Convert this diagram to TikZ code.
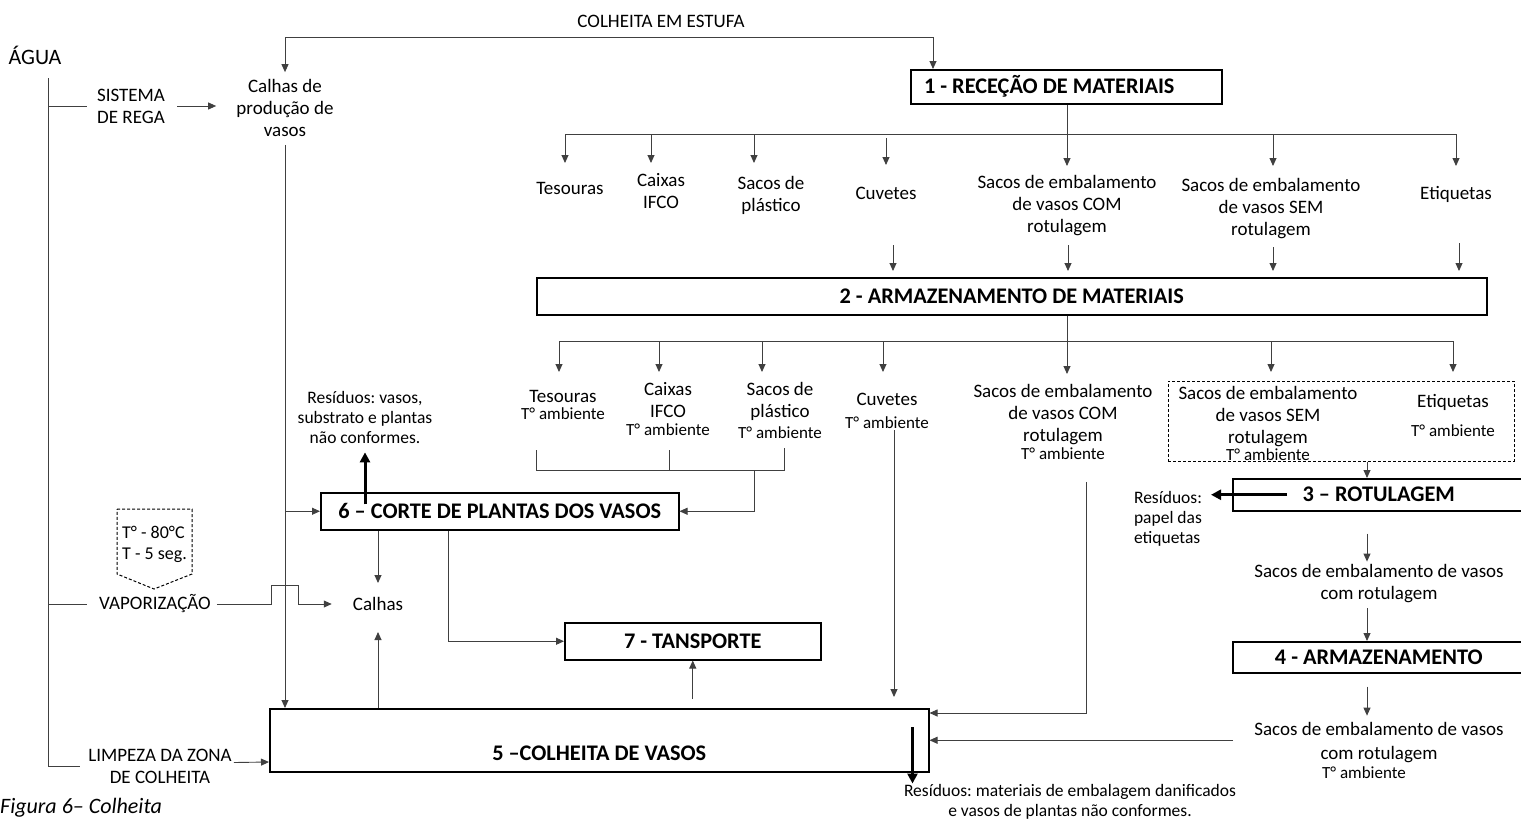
\documentclass[tikz,border=0pt]{standalone}
\usepackage{fontspec}
\setmainfont{Carlito}
\usetikzlibrary{arrows.meta}
\frenchspacing
\newcommand{\amb}{{\fontsize{17}{18}\selectfont T° ambiente}}
\begin{document}
\begin{tikzpicture}[x=1pt,y=-1pt,
  lbl/.style={align=center, inner sep=0pt, font=\fontsize{19}{22}\selectfont},
  sml/.style={align=center, inner sep=0pt, font=\fontsize{17.5}{20}\selectfont},
  stage/.style={draw, line width=1.5pt, inner sep=0pt, font=\bfseries\fontsize{22.3}{25}\selectfont},
  conn/.style={line width=0.9pt, draw=black!75},
  tip/.style={-{Triangle[length=8pt,width=7pt]}},
  arr/.style={conn, tip},
  fat/.style={line width=3pt, -{Triangle[length=10pt,width=10pt]}},
  dashbox/.style={draw, dashed, dash pattern=on 3pt off 2pt, line width=1pt, inner sep=0pt}
]
\useasboundingbox (0,0) rectangle (1521,820);
\clip (0,0) rectangle (1521,820);

% ---------- texts ----------
\node[lbl] (title) at (661,21) {COLHEITA EM ESTUFA};
\node[lbl, font=\fontsize{22}{26}\selectfont] (agua) at (35,55) {ÁGUA};
\node[lbl] (sis) at (131,106) {SISTEMA\\DE REGA};
\node[lbl] (calhasp) at (285,108) {Calhas de\\produção de\\vasos};

% stage 1 and received materials
\node[stage, anchor=north west, minimum width=311, minimum height=34] (box1) at (910,69) {1 - RECEÇÃO DE MATERIAIS\hspace*{34pt}};
\node[lbl] (tes1) at (570,188) {Tesouras};
\node[lbl] (cai1) at (661,191) {Caixas\\IFCO};
\node[lbl] (sac1) at (771,195.5) {Sacos de\\plástico};
\node[lbl] (cuv1) at (886,193) {Cuvetes};
\node[lbl] (com1) at (1067,206) {Sacos de embalamento\\de vasos COM\\rotulagem};
\node[lbl] (sem1) at (1271,208.5) {Sacos de embalamento\\de vasos SEM\\rotulagem};
\node[lbl] (eti1) at (1456,194) {Etiquetas};

% stage 2 and stored materials
\node[stage, anchor=north west, minimum width=950, minimum height=37] (box2) at (536,277) {2 - ARMAZENAMENTO DE MATERIAIS};
\node[lbl] (tes2) at (563,404.5) {Tesouras\\[-5pt]\amb};
\node[lbl] (cai2) at (668,409) {Caixas\\IFCO\\[-4pt]\amb};
\node[lbl] (sac2) at (780,410.5) {Sacos de\\plástico\\[-1pt]\amb};
\node[lbl] (cuv2) at (887,410.5) {Cuvetes\\[1pt]\amb};
\node[lbl] (com2) at (1063,422) {Sacos de embalamento\\de vasos COM\\rotulagem\\[-4pt]\amb};
\node[dashbox, minimum width=346, minimum height=80] (dbox) at (1341,421) {};
\node[lbl] (sem2) at (1268,423) {Sacos de embalamento\\de vasos SEM\\rotulagem\\[-5pt]\amb};
\node[lbl] (eti2) at (1453,415.5) {Etiquetas\\[7pt]\amb};

% cutting, harvest, transport
\node[sml] (res1) at (365,417) {Resíduos: vasos,\\substrato e plantas\\não conformes.};
\node[stage, anchor=north west, minimum width=358, minimum height=37] (box6) at (320,492) {6 – CORTE DE PLANTAS DOS VASOS};
\draw[dashed, dash pattern=on 3pt off 2pt, line width=1pt] (117,509) -- (192,509) -- (192,574) -- (154,589) -- (117,574) -- cycle;
\node[lbl, font=\fontsize{18}{21}\selectfont, align=left, anchor=west] (cond) at (122,544.5) {T° - 80°C\\T - 5 seg.};
\node[lbl] (vap) at (155,604) {VAPORIZAÇÃO};
\node[lbl] (calhas) at (378,604) {Calhas};
\node[stage, anchor=north west, minimum width=256, minimum height=37] (box7) at (564,622) {7 - TANSPORTE};
\node[stage, anchor=north west, minimum width=659, minimum height=63, text height=46pt, text depth=5pt] (box5) at (269,708) {5 –COLHEITA DE VASOS};
\node[lbl] (limp) at (160,766.5) {LIMPEZA DA ZONA\\DE COLHEITA};
\node[sml] (res3) at (1070,802) {Resíduos: materiais de embalagem danificados\\e vasos de plantas não conformes.};

% labelling line
\node[stage, anchor=north west, minimum width=292, minimum height=32] (box3) at (1232,478) {3 – ROTULAGEM};
\node[sml, align=left] (res2) at (1168,519) {Resíduos:\\papel das\\etiquetas};
\node[lbl] (sac3) at (1379,584) {Sacos de embalamento de vasos\\com rotulagem};
\node[stage, anchor=north west, minimum width=292, minimum height=31] (box4) at (1232,641) {4 - ARMAZENAMENTO};
\node[lbl] (sac4) at (1379,750) {Sacos de embalamento de vasos\\[2pt]com rotulagem\\[-3pt]\amb\hspace*{30pt}};

\node[lbl, font=\itshape\fontsize{22}{25}\selectfont, anchor=base west] (cap) at (0,813) {Figura 6– Colheita};

% ---------- water supply ----------
\coordinate (wtop) at (48,78);
\draw[conn] (wtop) |- ([xshift=-8]limp.west);
\draw[conn] (wtop |- sis.west) -- ([xshift=-10]sis.west);
\draw[conn] (wtop |- vap.west) -- ([xshift=-12]vap.west);
\draw[arr] ([xshift=12]sis.east) -- ++(39,0);
\draw[arr] ([xshift=6]vap.east) -- ++(54,0) -- ++(0,-19) -- ++(27,0) -- ++(0,19) -- ([xshift=-21]calhas.west);
\draw[arr] ([xshift=2,yshift=4]limp.east) -- (box5.west |- 0,762);

% ---------- greenhouse harvest ----------
\coordinate (ghR) at ([xshift=23]box1.north west);
\draw[conn, {Triangle[length=8pt,width=7pt]}-{Triangle[length=8pt,width=7pt]}] ([yshift=7]calhasp.north) |- (ghR |- 0,37) -- (ghR);
\draw[arr] ([yshift=-8]calhasp.south) -- (calhasp.south |- box5.north);
\draw[arr] (calhasp.south |- box6.west) -- (box6.west);

% ---------- reception to storage ----------
\draw[arr] (box1.south -| com1) -- (com1 |- 0,166);
\draw[conn] (565,134) -- (1456,134);
\coordinate (r1) at (565,134);
\coordinate (r2) at (651,134);
\coordinate (r3) at (754,134);
\coordinate (r4) at (886,138);
\coordinate (r6) at (1273,134);
\coordinate (r7) at (1456,134);
\draw[arr] (r1) -- (r1 |- 0,163);
\draw[arr] (r2) -- (r2 |- 0,163);
\draw[arr] (r3) -- (r3 |- 0,163);
\draw[arr] (r4) -- (r4 |- 0,165);
\draw[arr] (r6) -- (r6 |- 0,166);
\draw[arr] (r7) -- (r7 |- 0,166);
\draw[arr, shorten >=6pt] (893,245) -- (box2.north -| 893,0);
\draw[arr, shorten >=6pt] (1068,245) -- (box2.north -| 1068,0);
\draw[arr, shorten >=6pt] (1273,247) -- (box2.north -| 1273,0);
\draw[arr, shorten >=6pt] (1459,243) -- (box2.north -| 1459,0);

% ---------- storage distribution ----------
\draw[arr] (box2.south -| 1067,0) -- (1067,374);
\draw[conn] (559,341) -- (1453,341);
\coordinate (s1) at (559,341);
\coordinate (s2) at (659,341);
\coordinate (s3) at (762,341);
\coordinate (s4) at (883,341);
\coordinate (s6) at (1271,341);
\coordinate (s7) at (1453,341);
\foreach \p in {s1,s2,s3,s4,s6,s7} \draw[arr] (\p) -- (\p |- 0,372);

% supplies gathered for cutting
\coordinate (bkA) at (536,450);
\coordinate (bkB) at (669,450);
\coordinate (bkC) at (784,448);
\coordinate (bkJ) at (754,470);
\draw[conn] (bkA) -- (bkA |- bkJ) -- (bkC |- bkJ) -- (bkC);
\draw[conn] (bkB) -- (bkB |- bkJ);
\draw[arr] (bkJ) |- (box6.east);

% ---------- cutting and harvest flows ----------
\draw[fat] ([yshift=7]res1.south |- box6.center) -- ([yshift=-9]res1.south);
\draw[arr] (box6.south -| calhas) -- (calhas |- 0,583);
\draw[arr] (box5.north -| calhas) -- (calhas |- 0,632);
\draw[arr] (box6.south -| 448,0) |- (box7.west);
\draw[arr] (box7.south |- 0,699) -- (box7.south);

% materials into harvest
\draw[arr, shorten <=2pt, shorten >=11pt] (cuv2.south -| 894,0) -- (box5.north -| 894,0);
\draw[arr, shorten <=22pt] (com2.south -| 1086,0) |- ([yshift=-5]box5.north east);
\draw[arr, shorten <=21pt] (sac4.west |- box5.east) -- (box5.east);
\draw[fat] ([xshift=-17,yshift=-19]box5.north east) -- ([xshift=-17,yshift=-11]box5.south east);

% ---------- labelling line ----------
\draw[arr] (dbox.south -| 1367,0) -- (box3.north -| 1367,0);
\draw[fat] ([xshift=55]box3.west) -- ++(-76,0);
\draw[arr, shorten <=22pt, shorten >=3pt] (box3.south -| 1367,0) -- (sac3.north -| 1367,0);
\draw[arr, shorten <=5pt] (sac3.south -| 1367,0) -- (box4.north -| 1367,0);
\draw[arr, shorten <=13pt, shorten >=6pt] (box4.south -| 1367,0) -- (sac4.north -| 1367,0);
\end{tikzpicture}
\end{document}
